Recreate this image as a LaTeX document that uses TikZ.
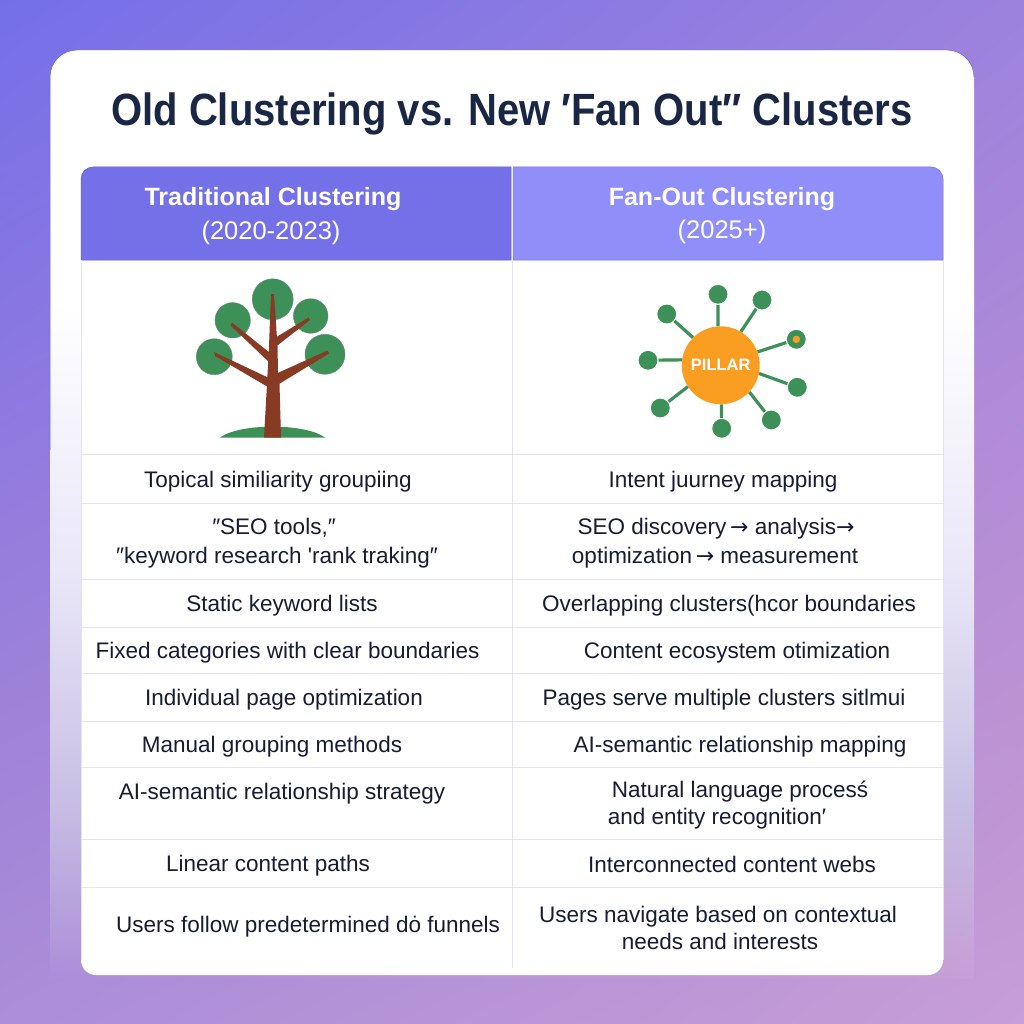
\documentclass[tikz,border=0pt]{standalone}
\usepackage{fontspec}
\usetikzlibrary{shadings}
\setmainfont{Liberation Sans}[Ligatures=TeXOff]
\newfontfamily\arrowfont{DejaVu Sans}
\newcommand{\flowto}{{\arrowfont\fontsize{22}{24}\selectfont →}}
\definecolor{bandA}{HTML}{746FE8}
\definecolor{bandB}{HTML}{9C82DD}
\definecolor{bandC}{HTML}{8D79E0}
\definecolor{bandD}{HTML}{B08BD8}
\definecolor{bandE}{HTML}{9D82D8}
\definecolor{bandF}{HTML}{BC92D3}
\definecolor{bandG}{HTML}{AB8DD8}
\definecolor{bandH}{HTML}{C79ED6}
\definecolor{fadeA}{HTML}{E9E6F8}
\definecolor{fadeB}{HTML}{C6BDE3}
\definecolor{headOld}{HTML}{7470E8}
\definecolor{headNew}{HTML}{908EF8}
\definecolor{ruleTab}{HTML}{E4E2F6}
\definecolor{titleInk}{HTML}{1A2744}
\definecolor{bodyInk}{HTML}{171C33}
\definecolor{leafGreen}{HTML}{3D9158}
\definecolor{barkBrown}{HTML}{873A24}
\definecolor{pillarOrange}{HTML}{FA9E22}

\begin{document}
\begin{tikzpicture}[x=1pt,y=-1pt,
  cell/.style={font=\fontsize{22.5}{24}\selectfont,text=bodyInk,inner sep=0pt,anchor=base},
  headline/.style={font=\fontsize{25}{28}\selectfont\bfseries,text=white,inner sep=0pt,anchor=base},
  headyear/.style={font=\fontsize{25.5}{28}\selectfont,text=white,inner sep=0pt,anchor=base},
  leaf/.style={circle,fill=leafGreen,draw=gray!70!leafGreen,line width=0.4pt,inner sep=0pt,minimum size=#1},
  spoke/.style={circle,fill=leafGreen,draw=white,line width=1pt,inner sep=0pt,minimum size=20pt},
  link/.style={draw=leafGreen,line width=3.2pt},
  tabrule/.style={draw=ruleTab,line width=0.7pt}]
\useasboundingbox (0,0) rectangle (1024,1024);

\shade[upper left=bandA,upper right=bandB,lower left=bandC,lower right=bandD] (0,0) rectangle (1024,400.5);
\shade[upper left=bandC,upper right=bandD,lower left=bandE,lower right=bandF] (0,400) rectangle (1024,700.5);
\shade[upper left=bandE,upper right=bandF,lower left=bandG,lower right=bandH] (0,700) rectangle (1024,1024);

\fill[white] (50,300.5) -- (50,77) arc[start angle=180,end angle=270,radius=27] -- (947,50) arc[start angle=270,end angle=360,radius=27] -- (974,300.5) -- cycle;
\shade[top color=white,bottom color=fadeA] (50,300) rectangle (974,577.5);
\shade[top color=fadeA,bottom color=fadeB] (50,577) rectangle (974,808.5);
\shade[upper left=fadeB,upper right=fadeB,lower left=bandG,lower right=bandH] (50,808) rectangle (974,978);
\draw[draw=headOld!85!black,line width=0.5pt] (50,450) -- (50,77) arc[start angle=180,end angle=270,radius=27] -- (947,50) arc[start angle=270,end angle=360,radius=27];

\fill[white,rounded corners=15pt] (81,240) rectangle (943,975);
\node[font=\fontsize{40}{44}\selectfont\bfseries,text=titleInk,inner sep=0pt,anchor=base] (title) at (512,126) {\scalebox{1}[1.13]{Old Clustering vs. New  ′Fan Out″ Clusters}};

\path[fill=headOld,draw=headOld!85!black,line width=0.5pt] (81,260) -- (81,179) arc[start angle=180,end angle=270,radius=12] -- (511,167) -- (511,260) -- cycle;
\path[fill=headNew,draw=headOld,line width=0.5pt] (513,260) -- (513,167) -- (931,167) arc[start angle=270,end angle=360,radius=12] -- (943,260) -- cycle;
\node[headline] (oldhead) at (273,206) {Traditional Clustering};
\node[headyear] (oldyear) at (271,240) {(2020-2023)};
\node[headline] (newhead) at (722,206) {Fan-Out Clustering};
\node[headyear] (newyear) at (722,239) {(2025+)};

\draw[tabrule] (81,260) -- (81,960);
\draw[tabrule] (943,260) -- (943,960);
\draw[tabrule] (512,260) -- (512,968);
\draw[tabrule] (81,454) -- (943,454);
\draw[tabrule] (81,503) -- (943,503);
\draw[tabrule] (81,579) -- (943,579);
\draw[tabrule] (81,627) -- (943,627);
\draw[tabrule] (81,673) -- (943,673);
\draw[tabrule] (81,721) -- (943,721);
\draw[tabrule] (81,767) -- (943,767);
\draw[tabrule] (81,839) -- (943,839);
\draw[tabrule] (81,887) -- (943,887);

\fill[leafGreen] (220,437.5) .. controls (240,423) and (305,423) .. (325,437.5) -- cycle;
\node[leaf=41pt] (crown) at (272.7,299.3) {};
\node[leaf=35.4pt] (leafA) at (232.7,320.3) {};
\node[leaf=34.6pt] (leafB) at (310.7,316) {};
\node[leaf=36pt] (leafC) at (214.3,356.7) {};
\node[leaf=40pt] (leafD) at (325,354.3) {};
\fill[barkBrown] (271,294) -- (274,294) -- (277.5,346) -- (278,373) -- (279.5,384) -- (281,437.5) -- (264,437.5) -- (267,384) -- (269,346) -- cycle;
\fill[barkBrown] (214,352) -- (269,378) -- (268,387) -- (215,356) -- cycle;
\fill[barkBrown] (232,322.5) -- (270,353) -- (270,363) -- (230.5,325.5) -- cycle;
\fill[barkBrown] (308.5,317.5) -- (277,336.7) -- (276.7,346) -- (310,320) -- cycle;
\fill[barkBrown] (327.5,350.5) -- (277,373.3) -- (279,384) -- (329,353.5) -- cycle;

\node[spoke] (fanA) at (718,294.3) {};
\node[spoke] (fanB) at (762,300) {};
\node[spoke] (fanC) at (796.3,339.3) {};
\node[spoke] (fanD) at (797.3,387.3) {};
\node[spoke] (fanE) at (771.3,420) {};
\node[spoke] (fanF) at (721.7,428.3) {};
\node[spoke] (fanG) at (660.3,408) {};
\node[spoke] (fanH) at (648,360.3) {};
\node[spoke] (fanI) at (666.7,314) {};
\node[circle,fill=pillarOrange,inner sep=0pt,minimum size=7.4pt] (fanDot) at (fanC) {};
\node[circle,fill=pillarOrange,inner sep=0pt,minimum size=78pt,text=white,font=\fontsize{16.5}{20}\selectfont\bfseries] (pillar) at (720.7,365.3) {PILLAR};
\draw[link] (pillar.94) -- (fanA);
\draw[link] (pillar.59) -- (fanB);
\draw[link] (pillar.20) -- (fanC);
\draw[link] (pillar.-12) -- (fanD);
\draw[link] (pillar.-43) -- (fanE);
\draw[link] (pillar.-89) -- (fanF);
\draw[link] (pillar.213) -- (fanG);
\draw[link] (pillar.172) -- (fanH);
\draw[link] (pillar.135) -- (fanI);

\node[cell] (oldA) at (278,487) {Topical similiarity groupiing};
\node[cell] (oldB) at (274,534) {″SEO tools,″};
\node[cell] (oldC) at (277,563) {″keyword research 'rank traking″};
\node[cell] (oldD) at (282,611) {Static keyword lists};
\node[cell] (oldE) at (287.5,658) {Fixed categories with clear boundaries};
\node[cell] (oldF) at (284,705) {Individual page optimization};
\node[cell] (oldG) at (272,752) {Manual grouping methods};
\node[cell] (oldH) at (282,799) {AI-semantic relationship strategy};
\node[cell] (oldI) at (268,871) {Linear content paths};
\node[cell] (oldJ) at (308,932) {Users follow predetermined dȯ funnels};

\node[cell] (newA) at (723,487) {Intent juurney mapping};
\node[cell] (newB) at (716,534) {SEO discovery\,\flowto{} analysis\flowto};
\node[cell] (newC) at (715,563) {optimization\,\flowto{} measurement};
\node[cell] (newD) at (729,611) {Overlapping clusters(hcor boundaries};
\node[cell] (newE) at (737,658) {Content ecosystem otimization};
\node[cell] (newF) at (724,705) {Pages serve multiple clusters sitlmui};
\node[cell] (newG) at (740,752) {AI-semantic relationship mapping};
\node[cell] (newH) at (740,797) {Natural language procesś};
\node[cell] (newI) at (717,824) {and entity recognition′};
\node[cell] (newJ) at (732,872) {Interconnected content webs};
\node[cell] (newK) at (718,922) {Users navigate based on contextual};
\node[cell] (newL) at (720,949) {needs and interests};
\end{tikzpicture}
\end{document}
